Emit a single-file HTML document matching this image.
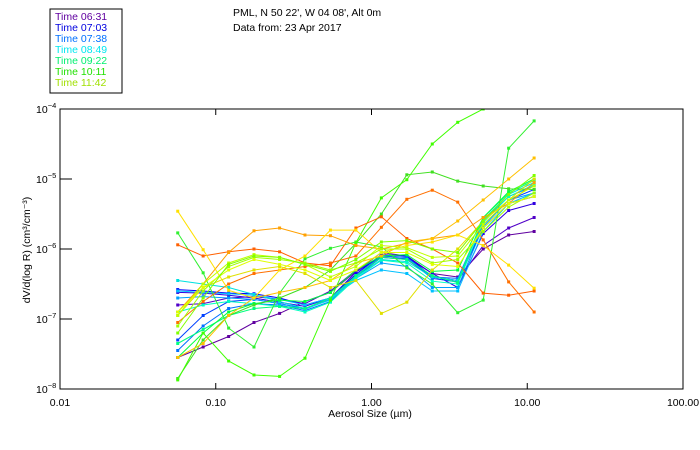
<!DOCTYPE html>
<html><head><meta charset="utf-8"><style>
body{margin:0;background:#fff;}
svg{display:block;font-family:"Liberation Sans",sans-serif;}
</style></head><body>
<svg id="chart" width="700" height="450">
 <rect x="50" y="9" width="72" height="84" fill="#fff" stroke="#000"/>
 <g font-size="10.5">
  <text x="55" y="20" fill="#6000a0">Time 06:31</text>
  <text x="55" y="31" fill="#0000e0">Time 07:03</text>
  <text x="55" y="42" fill="#0070ff">Time 07:38</text>
  <text x="55" y="53" fill="#00e8f0">Time 08:49</text>
  <text x="55" y="64" fill="#00f070">Time 09:22</text>
  <text x="55" y="75" fill="#20e000">Time 10:11</text>
  <text x="55" y="86" fill="#a0e000">Time 11:42</text>
 </g>
 <text x="233" y="16" font-size="10.5">PML, N 50 22', W 04 08', Alt 0m</text>
 <text x="233" y="31" font-size="10.5">Data from: 23 Apr 2017</text>
 <g id="plot"></g>
 <text x="370" y="417" font-size="10.5" text-anchor="middle">Aerosol Size (µm)</text>
 <text transform="translate(30,250) rotate(-90)" font-size="10.5" text-anchor="middle">dV/d(log R) (cm³/cm⁻³)</text>
</svg>
<script>
const sizes=[0.057,0.083,0.121,0.176,0.257,0.374,0.545,0.794,1.157,1.686,2.456,3.578,5.213,7.596,11.07];
const xTicks=[0.01,0.1,1,10,100];
const xTickLabels=["0.01","0.10","1.00","10.00","100.00"];
const yTicks=[-4,-5,-6,-7,-8];
const colors=["#6000a0","#5000c8","#3000e0","#0000ff","#0040ff","#0070ff","#00a0ff","#00c0ff","#00e0e0","#00ffc0","#00ff80","#00ff40","#30f030","#40e020","#40ff00","#ff7000","#ff6000","#ffa000","#ffc000","#ffe000","#e0e000","#a0ff00","#c0ff00","#e0ff00","#80ff00"];
// log10 of dV/dlogR
const s1=[-7.55,-7.40,-7.25,-7.05,-6.92,-6.75,-6.62,-6.32,-6.05,-6.10,-6.35,-6.40,-6.00,-5.80,-5.75];
const s2=[-6.80,-6.78,-6.70,-6.68,-6.72,-6.78,-6.60,-6.30,-6.12,-6.15,-6.40,-6.45,-5.95,-5.70,-5.55];
const s3=[-6.62,-6.63,-6.66,-6.70,-6.76,-6.82,-6.70,-6.33,-6.10,-6.12,-6.35,-6.55,-5.78,-5.45,-5.35];
const s4=[-6.58,-6.60,-6.63,-6.64,-6.70,-6.80,-6.70,-6.36,-6.08,-6.10,-6.40,-6.45,-5.70,-5.35,-5.25];
const s5=[-7.30,-6.95,-6.75,-6.72,-6.78,-6.85,-6.72,-6.40,-6.12,-6.14,-6.42,-6.47,-5.65,-5.30,-5.15];
const s6=[-7.45,-7.10,-6.85,-6.78,-6.80,-6.88,-6.75,-6.38,-6.10,-6.12,-6.40,-6.42,-5.60,-5.25,-5.10];
const s7=[-6.70,-6.68,-6.70,-6.72,-6.78,-6.86,-6.72,-6.42,-6.20,-6.25,-6.55,-6.55,-5.68,-5.30,-5.20];
const s8=[-6.60,-6.62,-6.64,-6.66,-6.72,-6.80,-6.70,-6.45,-6.30,-6.35,-6.60,-6.60,-5.75,-5.35,-5.20];
const s9=[-6.45,-6.50,-6.55,-6.65,-6.75,-6.85,-6.73,-6.40,-6.15,-6.18,-6.40,-6.45,-5.58,-5.22,-5.05];
const s10=[-6.90,-6.80,-6.75,-6.78,-6.82,-6.90,-6.76,-6.42,-6.16,-6.20,-6.46,-6.50,-5.62,-5.25,-5.08];
const s11=[-7.35,-7.15,-6.95,-6.85,-6.82,-6.85,-6.70,-6.38,-6.12,-6.15,-6.38,-6.48,-5.55,-5.20,-5.02];
const s12=[-7.55,-7.20,-6.90,-6.78,-6.73,-6.75,-6.62,-6.30,-6.10,-6.08,-6.32,-6.30,-5.55,-5.18,-5.00];
const s13=[-5.77,-6.34,-7.13,-7.40,-6.63,-6.14,-5.99,-5.90,-5.97,-6.27,-6.50,-6.91,-6.73,-4.56,-4.17];
const s14=[-7.85,-7.30,-6.95,-6.80,-6.70,-6.55,-6.30,-5.92,-5.50,-4.94,-4.90,-5.03,-5.10,-5.14,-5.15];
const s15=[-7.87,-7.20,-7.60,-7.80,-7.82,-7.56,-6.73,-5.91,-5.27,-5.01,-4.50,-4.19,-4.00,-3.80,-3.60];
const s16=[-7.05,-6.75,-6.50,-6.35,-6.30,-6.25,-6.20,-6.10,-5.69,-5.29,-5.16,-5.33,-5.87,-6.47,-6.90];
const s17=[-5.94,-6.10,-6.04,-6.00,-6.04,-6.20,-6.24,-5.70,-5.54,-5.85,-6.00,-6.20,-6.63,-6.66,-6.60];
const s18=[-6.90,-6.50,-6.05,-5.74,-5.70,-5.80,-5.81,-5.95,-6.00,-5.92,-5.85,-5.80,-5.55,-5.35,-5.05];
const s19=[-7.55,-7.35,-6.95,-6.70,-6.62,-6.55,-6.45,-6.20,-6.10,-5.90,-5.85,-5.60,-5.30,-5.00,-4.70];
const s20=[-5.46,-6.01,-6.59,-6.70,-6.30,-6.10,-5.73,-5.73,-6.05,-5.95,-5.90,-5.80,-5.95,-6.23,-6.56];
const s21=[-6.95,-6.55,-6.40,-6.30,-6.25,-6.35,-6.55,-6.45,-6.92,-6.76,-6.30,-6.00,-5.60,-5.30,-5.00];
const s22=[-7.10,-6.60,-6.25,-6.12,-6.15,-6.20,-6.30,-6.20,-6.00,-6.00,-6.20,-6.15,-5.75,-5.40,-5.20];
const s23=[-6.95,-6.50,-6.20,-6.08,-6.12,-6.22,-6.40,-6.25,-5.95,-5.98,-6.12,-6.10,-5.65,-5.30,-5.10];
const s24=[-6.90,-6.55,-6.30,-6.15,-6.22,-6.30,-6.45,-6.30,-6.05,-6.05,-6.22,-6.25,-5.70,-5.35,-5.25];
const s25=[-7.20,-6.70,-6.22,-6.10,-6.12,-6.22,-6.32,-6.15,-5.90,-5.88,-6.00,-6.05,-5.60,-5.22,-4.95];
const series=[s1,s2,s3,s4,s5,s6,s7,s8,s9,s10,s11,s12,s13,s14,s15,s16,s17,s18,s19,s20,s21,s22,s23,s24,s25];

const L=60,R=683,T=109,B=389;
function xs(v){return L+(Math.log10(v)+2)/4*(R-L);}
function ys(e){return T+(-4-e)/4*(B-T);}
const NS="http://www.w3.org/2000/svg";
const plot=document.getElementById('plot');
function mk(tag,attrs,parent){const e=document.createElementNS(NS,tag);for(const k in attrs)e.setAttribute(k,attrs[k]);(parent||plot).appendChild(e);return e;}
// clip
const defs=mk('defs',{});
const cp=mk('clipPath',{id:'clip'},defs);
mk('rect',{x:L,y:T,width:R-L,height:B-T},cp);
const lines=mk('g',{'clip-path':'url(#clip)'});


series.forEach((s,i)=>{
  const c=colors[i%colors.length];
  const pts=s.map((v,j)=>xs(sizes[j]).toFixed(1)+','+ys(v).toFixed(1)).join(' ');
  const pl=mk('polyline',{points:pts,fill:'none',stroke:c,'stroke-width':1},lines);
  
  
  s.forEach((v,j)=>{
    const r=mk('rect',{x:xs(sizes[j])-1.5,y:ys(v)-1.5,width:3,height:3,fill:c},lines);
    
    
  });
});
// frame
const fr=mk('rect',{x:L,y:T,width:R-L,height:B-T,fill:'none',stroke:'#000','stroke-width':1});


xTicks.forEach((t,i)=>{
  const x=xs(t);
  mk('line',{x1:x,x2:x,y1:B,y2:B-6,stroke:'#000'});
  mk('line',{x1:x,x2:x,y1:T,y2:T+6,stroke:'#000'});
  const tx=mk('text',{x:x,y:B+17,'font-size':10.5,'text-anchor':'middle'});
  tx.textContent=xTickLabels[i];
  
  
});
yTicks.forEach(t=>{
  const y=ys(t);
  mk('line',{x1:L,x2:L+12,y1:y,y2:y,stroke:'#000'});
  const tx=mk('text',{x:L-24,y:y+4,'font-size':10.5});
  tx.textContent='10';
  
  
  const sp=mk('tspan',{dy:-5,'font-size':7.5});
  tx.appendChild(sp);
  sp.textContent='−'+(-t);
});
</script>
</body></html>
